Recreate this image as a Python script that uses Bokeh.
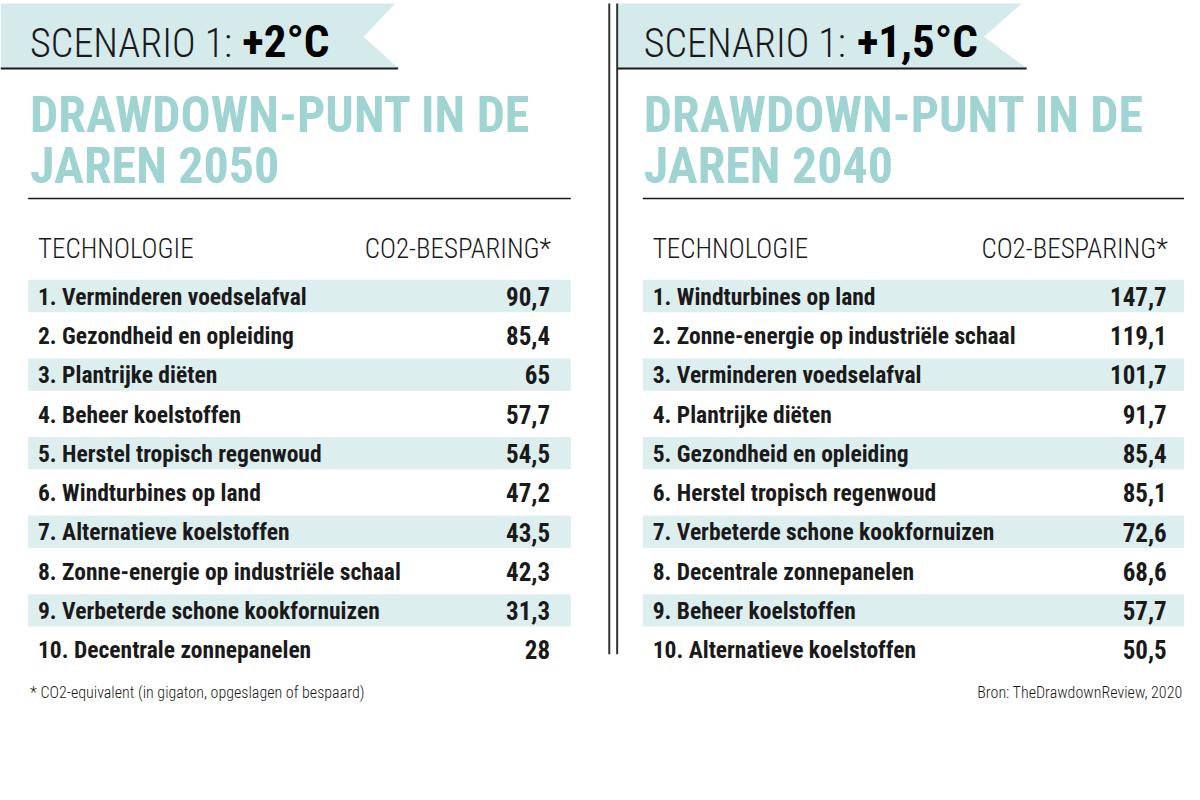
from bokeh.plotting import figure
from bokeh.models import Range1d
from bokeh.core.properties import value
from bokeh.embed import file_html
from bokeh.resources import INLINE

# ---------------- data ----------------
scenario_label = "SCENARIO 1:"
left_scenario = "+2°C"
right_scenario = "+1,5°C"
left_title = ["DRAWDOWN-PUNT IN DE", "JAREN 2050"]
right_title = ["DRAWDOWN-PUNT IN DE", "JAREN 2040"]
col_headers = ["TECHNOLOGIE", "CO2-BESPARING*"]

left_names = [
    "1. Verminderen voedselafval",
    "2. Gezondheid en opleiding",
    "3. Plantrijke diëten",
    "4. Beheer koelstoffen",
    "5. Herstel tropisch regenwoud",
    "6. Windturbines op land",
    "7. Alternatieve koelstoffen",
    "8. Zonne-energie op industriële schaal",
    "9. Verbeterde schone kookfornuizen",
    "10. Decentrale zonnepanelen",
]
left_values = [90.7, 85.4, 65, 57.7, 54.5, 47.2, 43.5, 42.3, 31.3, 28]

right_names = [
    "1. Windturbines op land",
    "2. Zonne-energie op industriële schaal",
    "3. Verminderen voedselafval",
    "4. Plantrijke diëten",
    "5. Gezondheid en opleiding",
    "6. Herstel tropisch regenwoud",
    "7. Verbeterde schone kookfornuizen",
    "8. Decentrale zonnepanelen",
    "9. Beheer koelstoffen",
    "10. Alternatieve koelstoffen",
]
right_values = [147.7, 119.1, 101.7, 91.7, 85.4, 85.1, 72.6, 68.6, 57.7, 50.5]

footnote = "* CO2-equivalent (in gigaton, opgeslagen of bespaard)"
source_note = "Bron: TheDrawdownReview, 2020"

# ---------------- style ----------------
FONT = value("Roboto Condensed")
LIGHT = value("Roboto Condensed Light, Roboto Condensed")
BANNER = "#d4eaeb"
BAND = "#ddeeef"
TEAL = "#9fd4d2"
INK = "#1a1a1a"
K = 0.33  # baseline correction (fraction of font size)

p = figure(width=1184, height=784, output_backend="svg", toolbar_location=None,
           x_range=Range1d(0, 1200), y_range=Range1d(800, 0), min_border=0)
p.axis.visible = False
p.grid.visible = False
p.outline_line_color = None
p.background_fill_color = "white"
p.border_fill_color = "white"


def fmt(v):
    return f"{v:g}".replace(".", ",")


def txt(xs, base_ys, texts, size, font=FONT, style="normal", color=INK, align="left"):
    p.text(xs, [b - K * size for b in base_ys], text=texts, text_font=font,
           text_font_size=f"{size}px", text_font_style=style, text_color=color,
           text_baseline="alphabetic", text_align=align)


def panel(names, vals, scen, title, bx0, tip, notch, lend, tx, boldx, rx0, rx1, namex, valx):
    # banner
    p.patch([bx0, tip, notch, lend, bx0], [3, 3, 37, 69, 69], fill_color=BANNER, line_color=None)
    p.line([bx0, lend], [69.5, 69.5], line_color=INK, line_width=2)
    txt([tx], [57], [scen[0]], 40, font=LIGHT)
    txt([boldx], [57], [scen[1]], 45, style="bold", color="#000000")
    # title
    txt([tx, tx], [133, 185], title, 50, style="bold", color=TEAL)
    # rule
    p.line([rx0, rx1], [202, 202], line_color=INK, line_width=1.5)
    # headers
    txt([namex], [262], [col_headers[0]], 27, font=LIGHT)
    txt([valx + 1], [262], [col_headers[1]], 27, font=LIGHT, align="right")
    # rows
    ys = [301.5 + 40.1 * i for i in range(len(names))]
    band_y = [y for i, y in enumerate(ys) if i % 2 == 0]
    p.hbar(y=band_y, left=rx0, right=rx1, height=33, fill_color=BAND, line_color=None)
    txt([namex] * len(names), [y + 8.5 for y in ys], names, 23.5, style="bold")
    txt([valx] * len(vals), [y + 8.5 for y in ys], [fmt(v) for v in vals], 25, style="bold",
        align="right")


panel(left_names, left_values, (scenario_label, left_scenario), left_title,
      0, 400, 368, 403, 30, 245, 28, 578, 38, 557)
panel(right_names, right_values, (scenario_label, right_scenario), right_title,
      625, 1035, 997, 1040, 652, 868, 651, 1200, 661, 1182)

# divider double line
p.line([617, 617], [3, 667], line_color="#333333", line_width=2)
p.line([625, 625], [3, 667], line_color="#333333", line_width=2)

# footnotes
txt([30], [711], [footnote], 16, font=LIGHT)
txt([1198], [711], [source_note], 16, font=LIGHT, align="right")

open("out.html", "w").write(file_html(p, INLINE))
